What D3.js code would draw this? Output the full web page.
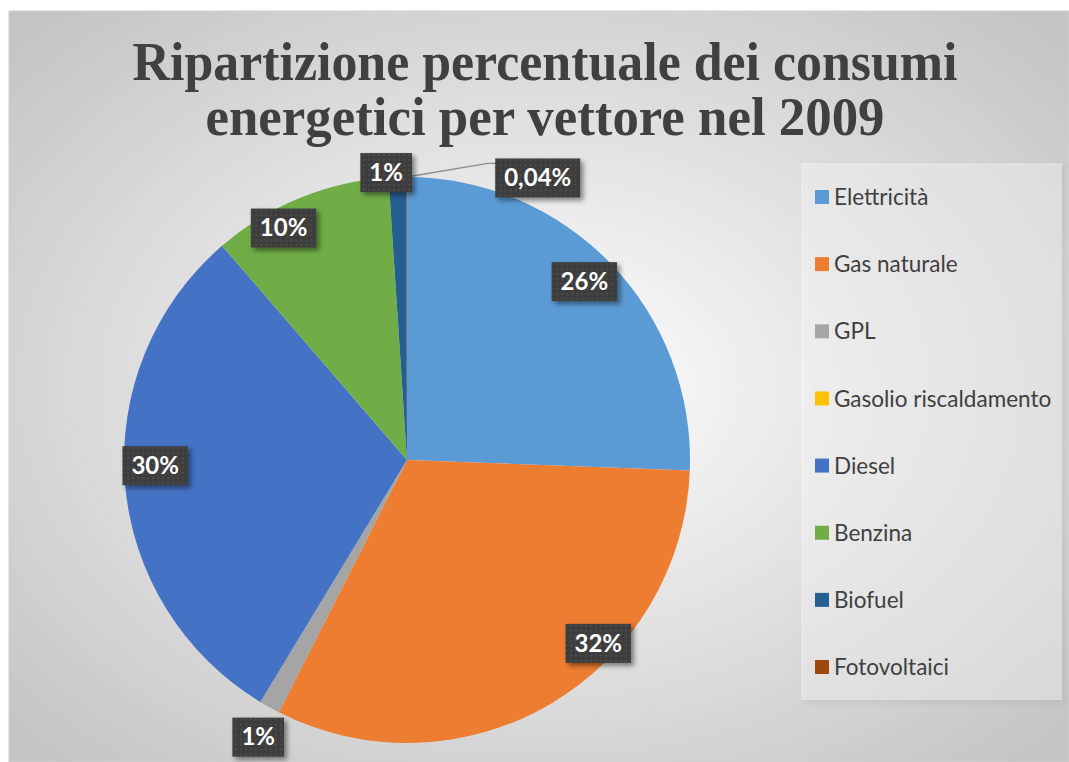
<!DOCTYPE html>
<html>
<head>
<meta charset="utf-8">
<style>
  body { margin: 0; background: #fff; }
  svg { display: block; }
  .title { font-family: "Liberation Serif", "DejaVu Serif Condensed", serif; font-weight: bold; fill: #404040; }
  .legendText { font-family: Lato, "Open Sans", sans-serif; font-size: 22.5px; fill: #404040; }
  .lbl { font-family: Lato, "Open Sans", sans-serif; font-size: 24px; font-weight: bold; fill: #fff; }
</style>
</head>
<body>
<svg id="chart" width="1069" height="762"></svg>
<script src="https://d3js.org/d3.v7.min.js"></script>
<script>
// data (percent shares, 2009)
var categories = ["Elettricità", "Gas naturale", "GPL", "Gasolio riscaldamento", "Diesel", "Benzina", "Biofuel", "Fotovoltaici"];
var values = [25.6, 31.9, 1.2, 0, 30.0, 10.3, 1.0, 0.04];
var colors = ["#5B9BD5", "#ED7D31", "#A5A5A5", "#FFC000", "#4472C4", "#70AD47", "#255E91", "#9E480E"];
var titleLines = ["Ripartizione percentuale dei consumi", "energetici per vettore nel 2009"];

// label placement tweaks (Excel "best fit"): [angle offset in degrees, radius ratio]
var labelPlace = [[-1.3, 0.89], [-15.8, 0.935], [-0.8, 1.11], [0, 0], [3.6, 0.89], [-5.7, 0.93], [-2.2, 1.02], [24.9, 1.10]];

var svg = d3.select("#chart"),
    W = +svg.attr("width"), H = +svg.attr("height");

var defs = svg.append("defs");

var bg = defs.append("radialGradient").attr("id", "bgGrad")
    .attr("cx", "50%").attr("cy", "50%").attr("r", "68%");
bg.append("stop").attr("offset", "0%").attr("stop-color", "#ffffff");
bg.append("stop").attr("offset", "100%").attr("stop-color", "#c4c4c4");

var dots = defs.append("pattern").attr("id", "dots")
    .attr("width", 5).attr("height", 5).attr("patternUnits", "userSpaceOnUse");
dots.append("rect").attr("width", 5).attr("height", 5).attr("fill", "#3d3d3d");
dots.append("rect").attr("x", 2).attr("y", 2).attr("width", 1.5).attr("height", 1.5).attr("fill", "#565656");

var shadow = defs.append("filter").attr("id", "shadow")
    .attr("x", "-20%").attr("y", "-20%").attr("width", "150%").attr("height", "160%");
shadow.append("feDropShadow").attr("dx", 3).attr("dy", 3).attr("stdDeviation", 2.5)
    .attr("flood-color", "#000").attr("flood-opacity", 0.45);

var legShadow = defs.append("filter").attr("id", "legShadow")
    .attr("x", "-5%").attr("y", "-5%").attr("width", "115%").attr("height", "115%");
legShadow.append("feDropShadow").attr("dx", 3).attr("dy", 3).attr("stdDeviation", 3)
    .attr("flood-color", "#000").attr("flood-opacity", 0.18);

// chart area
svg.append("rect")
    .attr("x", 9).attr("y", 11).attr("width", W - 9).attr("height", H - 11)
    .attr("fill", "url(#bgGrad)")
    .attr("stroke", "#d0d0d0").attr("stroke-width", 1);

// title
var title = svg.append("text").attr("class", "title")
    .attr("text-anchor", "middle");
titleLines.forEach(function(t, i) {
  title.append("tspan")
    .attr("x", 545)
    .attr("y", 80 + i * 55)
    .attr("font-size", 54)
    .attr("textLength", i === 0 ? 825 : 679)
    .attr("lengthAdjust", "spacingAndGlyphs")
    .text(t);
});

// pie
var cx = 407, cy = 460, R = 283;
var total = d3.sum(values);
var pie = d3.pie().sort(null).value(function(d) { return d; });
var arcs = pie(values);
var arc = d3.arc().innerRadius(0).outerRadius(R);

var g = svg.append("g").attr("transform", "translate(" + cx + "," + cy + ")");

g.selectAll("path.slice")
  .data(arcs)
  .enter().append("path")
    .attr("class", "slice")
    .attr("d", arc)
    .attr("fill", function(d, i) { return colors[i]; });

function fmt(v) {
  var p = v / total * 100;
  if (p < 0.1) return d3.format(".2f")(p).replace(".", ",") + "%";
  return Math.round(p) + "%";
}

function polar(a, r) { return [Math.sin(a) * r, -Math.cos(a) * r]; }

// leader line for the tiny slice
arcs.forEach(function(d, i) {
  if (i !== 7) return;
  var mid = (d.startAngle + d.endAngle) / 2;
  var p0 = polar(mid, R);
  var lp = polar(mid + labelPlace[i][0] * Math.PI / 180, R * labelPlace[i][1]);
  g.append("polyline")
    .attr("points", [p0, [lp[0] - 50, lp[1] - 14], [lp[0] - 42, lp[1] - 14]].map(function(p) { return p.join(","); }).join(" "))
    .attr("fill", "none").attr("stroke", "#8c8c8c").attr("stroke-width", 1.3);
});

// data labels
var labels = g.selectAll("g.lbl")
  .data(arcs.filter(function(d) { return d.value > 0; }))
  .enter().append("g")
    .attr("class", "lblg")
    .attr("transform", function(d) {
      var pl = labelPlace[d.index];
      var mid = (d.startAngle + d.endAngle) / 2 + pl[0] * Math.PI / 180;
      return "translate(" + polar(mid, R * pl[1]) + ")";
    });

labels.each(function(d) {
  var sel = d3.select(this);
  var box = sel.append("rect").attr("fill", "url(#dots)").attr("filter", "url(#shadow)");
  var t = sel.append("text").attr("class", "lbl")
    .attr("text-anchor", "middle").attr("dy", "0.36em")
    .text(fmt(d.value));
  var bb = t.node().getBBox();
  var padX = 9;
  box.attr("x", -bb.width / 2 - padX).attr("y", -19)
     .attr("width", bb.width + 2 * padX).attr("height", 39);
});

// legend
var legend = svg.append("g");
legend.append("rect")
  .attr("x", 801).attr("y", 163).attr("width", 261).attr("height", 537)
  .attr("fill", "#ffffff").attr("fill-opacity", 0.35)
  .attr("filter", "url(#legShadow)");

var ly = d3.scalePoint().domain(categories).range([197, 667]);

var item = legend.selectAll("g.item")
  .data(categories)
  .enter().append("g")
    .attr("class", "item")
    .attr("transform", function(d) { return "translate(815," + ly(d) + ")"; });

item.append("rect")
  .attr("x", 0).attr("y", -7).attr("width", 14).attr("height", 14)
  .attr("fill", function(d, i) { return colors[i]; });

item.append("text")
  .attr("class", "legendText")
  .attr("x", 19).attr("dy", "0.36em")
  .text(function(d) { return d; });
</script>
</body>
</html>
